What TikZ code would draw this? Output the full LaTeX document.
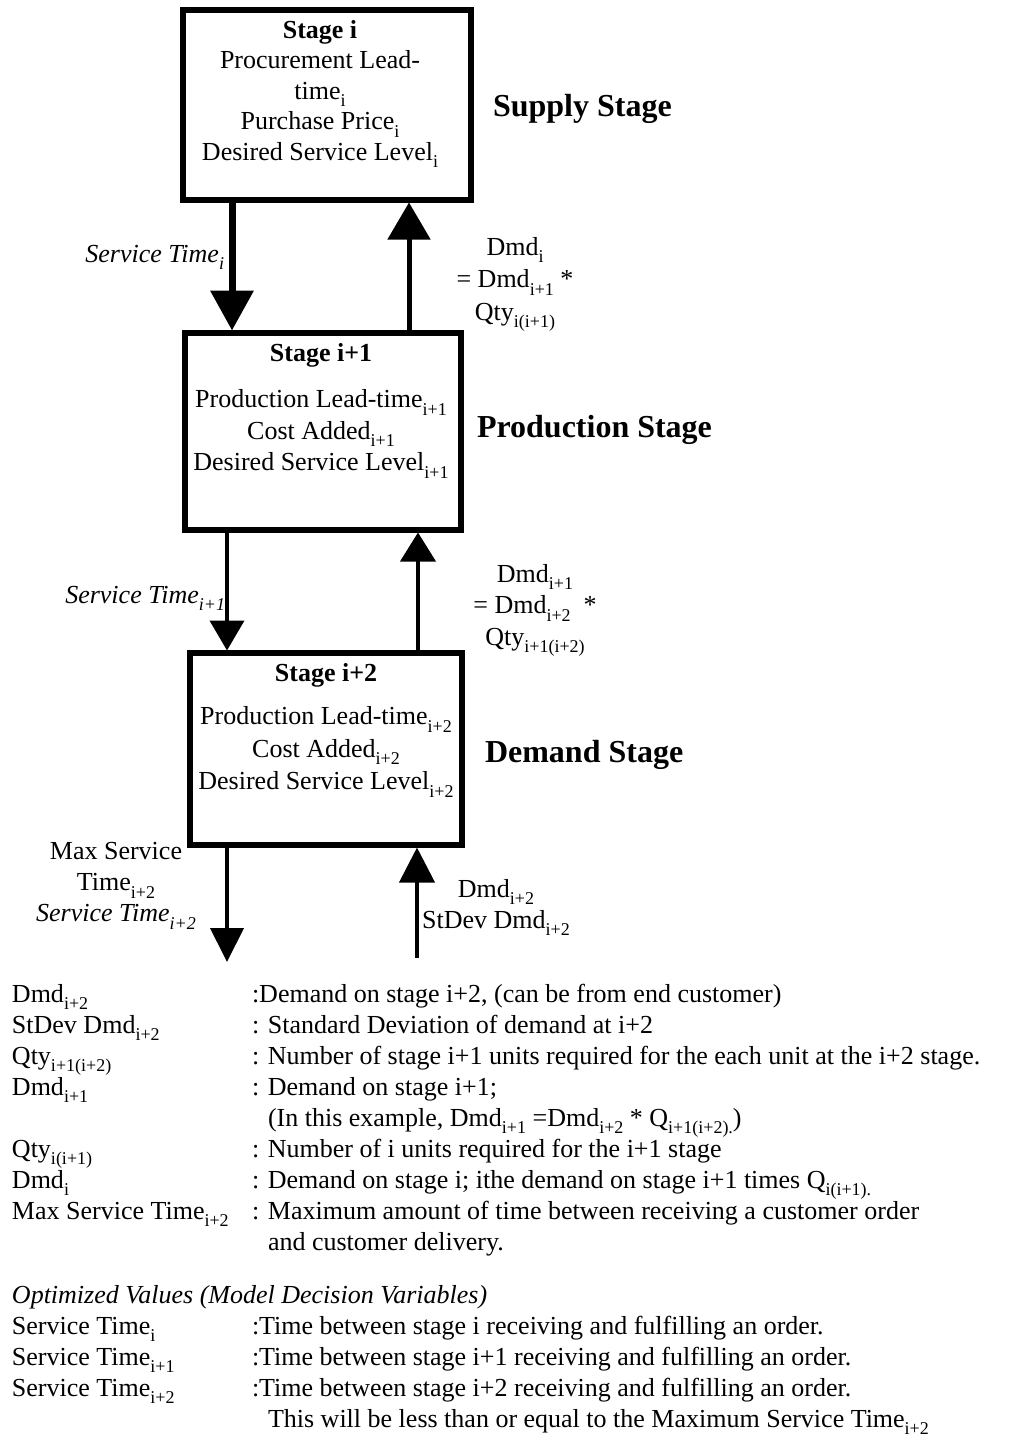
\documentclass[tikz,border=0pt]{standalone}
\usepackage{fontspec}
\setmainfont{Liberation Serif}
\usetikzlibrary{arrows.meta}
% lowered index, set smaller, as in the labels
\newcommand{\lo}[1]{\raisebox{-0.3em}{\fontsize{18}{18}\selectfont #1}}
\begin{document}
\begin{tikzpicture}[x=1pt,y=-1pt,
  every node/.style={inner sep=0pt, outer sep=0pt, font=\fontsize{26}{31}\selectfont},
  stagebox/.style={draw, line width=5.5pt, rectangle, minimum width=#1},
  boxtext/.style={anchor=north, align=center},
  tag/.style={font=\fontsize{32}{38}\selectfont\bfseries, anchor=base west},
  flow/.style={line width=#1},
  lcol/.style={anchor=base west},
  rcol/.style={anchor=base west}]

% page
\fill[white] (0,0) rectangle (1011,1456);
\useasboundingbox (0,0) rectangle (1011,1456);

% the three stages
\node[stagebox=288pt, minimum height=190pt] (s1) at (327,105) {};
\node[stagebox=276pt, minimum height=197pt] (s2) at (323,431.5) {};
\node[stagebox=272pt, minimum height=192pt] (s3) at (326,749) {};

\node[boxtext, font=\fontsize{26}{30.5}\selectfont] (s1t) at (320,20)
  {\textbf{Stage i}\\Procurement Lead-\\time\lo{i}\\Purchase Price\lo{i}\\Desired Service Level\lo{i}};
\node[boxtext, font=\fontsize{26}{31.5}\selectfont] (s2t) at (321,343)
  {\textbf{Stage i+1}\\[15pt]Production Lead-time\lo{i+1}\\Cost Added\lo{i+1}\\Desired Service Level\lo{i+1}};
\node[boxtext, font=\fontsize{26}{32.5}\selectfont] (s3t) at (326,663)
  {\textbf{Stage i+2}\\[11pt]Production Lead-time\lo{i+2}\\Cost Added\lo{i+2}\\Desired Service Level\lo{i+2}};

\node[tag] (t1) at (493,116) {Supply Stage};
\node[tag] (t2) at (477,437) {Production Stage};
\node[tag] (t3) at (485,762) {Demand Stage};

% arrow columns
\coordinate (xa) at (232,0);
\coordinate (xb) at (409,0);
\coordinate (xc) at (227,0);
\coordinate (xd) at (418,0);
\coordinate (xe) at (227,0);
\coordinate (xf) at (417,0);
\coordinate (out3) at (227,962);
\coordinate (in3) at (417,958);

% service time (down) and demand (up) flows
\draw[flow=7pt, -{Triangle[length=40pt,width=42pt]}, shorten >=2.5pt]
  (s1.south -| xa) -- (s2.north -| xa);
\draw[flow=5pt, -{Triangle[length=37pt,width=42pt]}, shorten >=2.5pt]
  (s2.north -| xb) -- (s1.south -| xb);
\draw[flow=4pt, -{Triangle[length=30pt,width=34pt]}, shorten >=2.5pt]
  (s2.south -| xc) -- (s3.north -| xc);
\draw[flow=4pt, -{Triangle[length=29pt,width=35pt]}, shorten >=2.5pt]
  (s3.north -| xd) -- (s2.south -| xd);
\draw[flow=4pt, -{Triangle[length=34pt,width=33pt]}]
  (s3.south -| xe) -- (out3);
\draw[flow=4pt, -{Triangle[length=35pt,width=35pt]}, shorten >=2.5pt]
  (in3) -- (s3.south -| xf);

% flow labels
\node[anchor=base east] (st1) at (224,262) {\textit{Service Time\lo{i}}};
\node[anchor=base east] (st2) at (225,603) {\textit{Service Time\lo{i+1}}};
\node[boxtext, font=\fontsize{26}{31}\selectfont] (st3) at (116,842)
  {Max Service\\Time\lo{i+2}\\\textit{Service Time\lo{i+2}}};

\node[boxtext, font=\fontsize{26}{32.5}\selectfont] (d1) at (515,237)
  {Dmd\lo{i}\\= Dmd\lo{i+1} *\\Qty\lo{i(i+1)}};
\node[boxtext, font=\fontsize{26}{31.5}\selectfont] (d2) at (535,564)
  {Dmd\lo{i+1}\\= Dmd\lo{i+2}\ \ *\\Qty\lo{i+1(i+2)}};
\node[boxtext, font=\fontsize{26}{31}\selectfont] (d3) at (496,879)
  {Dmd\lo{i+2}\\StDev Dmd\lo{i+2}};

% legend
\node[lcol] (l1) at (12,1002) {Dmd\lo{i+2}};
\node[rcol] (r1) at (252,1002) {:Demand on stage i+2, (can be from end customer)};
\node[lcol] (l2) at (12,1033) {StDev Dmd\lo{i+2}};
\node[rcol] (r2) at (252,1033) {: Standard Deviation of demand at i+2};
\node[lcol] (l3) at (12,1064) {Qty\lo{i+1(i+2)}};
\node[rcol] (r3) at (252,1064) {: Number of stage i+1 units required for the each unit at the i+2 stage.};
\node[lcol] (l4) at (12,1095) {Dmd\lo{i+1}};
\node[rcol] (r4) at (252,1095) {: Demand on stage i+1;};
\node[rcol] (r5) at (268,1126) {(In this example, Dmd\lo{i+1} =Dmd\lo{i+2} * Q\lo{i+1(i+2).})};
\node[lcol] (l6) at (12,1157) {Qty\lo{i(i+1)}};
\node[rcol] (r6) at (252,1157) {: Number of i units required for the i+1 stage};
\node[lcol] (l7) at (12,1188) {Dmd\lo{i}};
\node[rcol] (r7) at (252,1188) {: Demand on stage i; ithe demand on stage i+1 times Q\lo{i(i+1).}};
\node[lcol] (l8) at (12,1219) {Max Service Time\lo{i+2}};
\node[rcol] (r8) at (252,1219) {: Maximum amount of time between receiving a customer order};
\node[rcol] (r9) at (268,1250) {and customer delivery.};

\node[lcol] (h10) at (12,1303) {\textit{Optimized Values (Model Decision Variables)}};
\node[lcol] (l11) at (12,1334) {Service Time\lo{i}};
\node[rcol] (r11) at (252,1334) {:Time between stage i receiving and fulfilling an order.};
\node[lcol] (l12) at (12,1365) {Service Time\lo{i+1}};
\node[rcol] (r12) at (252,1365) {:Time between stage i+1 receiving and fulfilling an order.};
\node[lcol] (l13) at (12,1396) {Service Time\lo{i+2}};
\node[rcol] (r13) at (252,1396) {:Time between stage i+2 receiving and fulfilling an order.};
\node[rcol] (r14) at (268,1427) {This will be less than or equal to the Maximum Service Time\lo{i+2}};
\end{tikzpicture}
\end{document}
